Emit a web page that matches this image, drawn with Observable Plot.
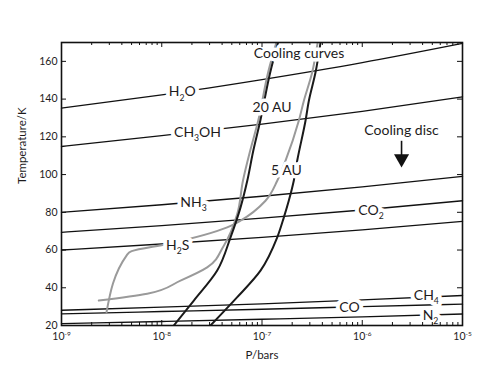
<!DOCTYPE html>
<html><head><meta charset="utf-8">
<script src="https://cdn.jsdelivr.net/npm/d3@7"></script>
<script src="https://cdn.jsdelivr.net/npm/@observablehq/plot@0.6"></script>
<style>body{margin:0;background:#fff}</style>
</head><body><div id="chart"></div>
<script>
// ---- data ----
const decades = [-9, -8, -7, -6, -5];           // log10 P (bars)
const speciesNames = ["H₂O", "CH₃OH", "NH₃", "CO₂", "H₂S", "CH₄", "CO", "N₂"];
const H2O   = [135.2, 142.2, 150.3, 159.3, 169.5];
const CH3OH = [114.9, 120.6, 126.7, 133.5, 141.2];
const NH3   = [80.0, 84.0, 88.5, 93.5, 99.0];
const CO2   = [69.4, 72.9, 76.9, 81.2, 86.1];
const H2S   = [60.0, 63.2, 66.7, 70.7, 75.2];
const CH4   = [28.1, 29.7, 31.5, 33.6, 35.9];
const CO    = [26.2, 27.4, 28.6, 30.0, 31.3];
const N2    = [21.0, 22.1, 23.3, 24.6, 26.1];
const speciesT = [H2O, CH3OH, NH3, CO2, H2S, CH4, CO, N2];

// label positions (log10 P, T)
const labelLogP = [-7.796, -7.643, -7.683, -5.913, -7.84, -5.361, -6.127, -5.319];
const labelT    = [143.8, 122.3, 85.2, 81.2, 62.3, 35.9, 29.4, 25.3];

// cooling curves
const curveNames = ["20 AU black", "20 AU grey", "5 AU black", "5 AU grey"];
const au20BlackLogP = [-7.880, -7.680, -7.447, -7.314, -7.214, -7.147, -7.087, -7.017, -6.917, -6.838];
const au20BlackT    = [20.0, 33.2, 49.1, 66.7, 82.6, 96.7, 112.6, 128.5, 154.4, 170.3];
const au20GreyLogP  = [-8.628, -8.145, -7.813, -7.547, -7.381, -7.247, -7.190, -7.118, -7.038, -6.938, -6.855];
const au20GreyT     = [33.2, 36.8, 43.8, 50.8, 62.3, 79.1, 96.7, 112.6, 128.5, 154.4, 170.3];
const au5BlackLogP  = [-7.514, -7.247, -7.015, -6.848, -6.782, -6.733, -6.683, -6.649, -6.566, -6.533, -6.466, -6.416];
const au5BlackT     = [20.0, 35.0, 49.1, 66.7, 77.3, 86.1, 96.7, 107.3, 128.5, 139.0, 154.2, 170.1];
const au5GreyLogP   = [-8.551, -8.345, -8.300, -7.946, -7.347, -7.214, -6.965, -6.848, -6.766, -6.633, -6.583, -6.499, -6.446];
const au5GreyT      = [27.0, 57.6, 59.4, 63.2, 72.0, 75.6, 86.1, 96.7, 107.3, 128.5, 139.0, 154.2, 169.5];

// annotations
const annotText = ["Cooling curves", "20 AU", "5 AU", "Cooling disc"];
const annotLogP = [-6.631, -6.900, -6.756, -5.608];
const annotT    = [163.9, 135.3, 102.0, 123.5];
const arrowLogP = -5.608;
const arrowT    = [117.9, 110.0, 108.4]; // shaft top, shaft bottom, head centre

// ticks
const xMajor = [1e-9, 1e-8, 1e-7, 1e-6, 1e-5];
const xMinorMult = [2, 3, 4, 5, 6, 7, 8, 9];
const yTicks = [20, 40, 60, 80, 100, 120, 140, 160];

// ---- build tables ----
const sublim = [];
speciesNames.forEach((n, i) => decades.forEach((e, j) => sublim.push({name: n, P: 10 ** e, T: speciesT[i][j]})));
const labels = speciesNames.map((n, i) => ({name: n, P: 10 ** labelLogP[i], T: labelT[i]}));
const curveArrays = [[au20BlackLogP, au20BlackT], [au20GreyLogP, au20GreyT], [au5BlackLogP, au5BlackT], [au5GreyLogP, au5GreyT]];
const cooling = [];
curveArrays.forEach(([lp, t], i) => lp.forEach((e, j) => cooling.push({curve: curveNames[i], P: 10 ** e, T: t[j]})));
const blackCurves = cooling.filter(d => d.curve.includes("black"));
const greyCurves = cooling.filter(d => d.curve.includes("grey"));
const annots = annotText.map((t, i) => ({text: t, P: 10 ** annotLogP[i], T: annotT[i]}));
const xMinor = decades.slice(0, -1).flatMap(e => xMinorMult.map(m => m * 10 ** e));

const W = 491, H = 379, mL = 61, mR = 29, mT = 42, mB = 54;
const pw = W - mL - mR, ph = H - mT - mB;
const ink = "#1d1b1c";
const supMap = {"⁻": "-", "⁰": "0", "¹": "1", "²": "2", "³": "3", "⁴": "4", "⁵": "5", "⁶": "6", "⁷": "7", "⁸": "8", "⁹": "9"};
const toSup = s => s.split("").map(c => Object.keys(supMap).find(k => supMap[k] === c)).join("");
const fmt = d => "10" + toSup(String(Math.round(Math.log10(d))));

const halo = {fill: "white", stroke: "white", strokeWidth: 8, fontSize: 14};
const chart = Plot.plot({
  width: W, height: H,
  marginLeft: mL, marginRight: mR, marginTop: mT, marginBottom: mB,
  style: {fontFamily: "Lato, 'Open Sans', sans-serif", fontSize: "10.5px", color: ink, background: "#fff"},
  x: {type: "log", domain: [1e-9, 1e-5]},
  y: {domain: [20, 170]},
  marks: [
    Plot.line(sublim, {x: "P", y: "T", z: "name", stroke: "#111", strokeWidth: 1.35, curve: "natural"}),
    Plot.line(greyCurves, {x: "P", y: "T", z: "curve", stroke: "#9a9a9a", strokeWidth: 2, curve: "monotone-y", clip: true}),
    Plot.line(blackCurves, {x: "P", y: "T", z: "curve", stroke: "#1a1a1a", strokeWidth: 2, curve: "monotone-y", clip: true}),
    Plot.text(labels, {x: "P", y: "T", text: "name", ...halo}),
    Plot.text(annots, {x: "P", y: "T", text: "text", ...halo, strokeWidth: 7}),
    Plot.text(labels, {x: "P", y: "T", text: "name", fill: ink, fontSize: 14}),
    Plot.text(annots, {x: "P", y: "T", text: "text", fill: ink, fontSize: 14}),
    Plot.link([arrowLogP], {x1: d => 10 ** d, x2: d => 10 ** d, y1: () => arrowT[0], y2: () => arrowT[1], stroke: "#111", strokeWidth: 1.6}),
    Plot.dot([arrowLogP], {x: d => 10 ** d, y: () => arrowT[2], symbol: "triangle", r: 5.6, fill: "#111", stroke: "none", rotate: 180}),
    // inward ticks
    Plot.tickY(yTicks, {y: d => d, insetRight: pw - 5, stroke: "#111", strokeWidth: 1}),
    Plot.tickY(yTicks, {y: d => d, insetLeft: pw - 5, stroke: "#111", strokeWidth: 1}),
    Plot.tickX(xMajor, {x: d => d, insetTop: ph - 5, stroke: "#111", strokeWidth: 1}),
    Plot.tickX(xMinor, {x: d => d, insetTop: ph - 3, stroke: "#111", strokeWidth: 1}),
    Plot.tickX(xMajor, {x: d => d, insetBottom: ph - 5, stroke: "#111", strokeWidth: 1}),
    Plot.tickX(xMinor, {x: d => d, insetBottom: ph - 3, stroke: "#111", strokeWidth: 1}),
    Plot.frame({stroke: "#111", strokeWidth: 1.6}),
    Plot.axisX({ticks: xMajor, tickSize: 0, tickPadding: 7, tickFormat: fmt, label: null, fontSize: 10.5}),
    Plot.axisY({ticks: yTicks, tickSize: 0, tickPadding: 4, label: null, fontSize: 10.5}),
    Plot.text(["P/bars"], {frameAnchor: "bottom", dy: 33, fontSize: 11.5, fill: ink}),
    Plot.text(["Temperature/K"], {frameAnchor: "left", dx: -39, rotate: -90, fontSize: 11.5, fill: ink})
  ]
});
document.getElementById("chart").appendChild(chart);

// render sub/superscript characters as shifted tspans
const subMap = {"₀": "0", "₁": "1", "₂": "2", "₃": "3", "₄": "4", "₅": "5", "₆": "6", "₇": "7", "₈": "8", "₉": "9"};
d3.select(chart).selectAll("text").each(function () {
  const t = this.textContent;
  if (!/[₀-₉⁰-⁹⁻¹²³]/.test(t)) return;
  const el = d3.select(this);
  const fs = parseFloat(getComputedStyle(this).fontSize) || 12;
  el.text(null);
  const isSub = c => c in subMap;
  const isSup = c => c in supMap;
  const runs = [];
  for (const c of t) {
    const kind = isSub(c) ? "sub" : isSup(c) ? "sup" : "n";
    const ch = isSub(c) ? subMap[c] : isSup(c) ? supMap[c] : c;
    if (runs.length && runs[runs.length - 1].kind === kind) runs[runs.length - 1].s += ch;
    else runs.push({kind, s: ch});
  }
  let shift = 0;
  for (const r of runs) {
    const target = r.kind === "sub" ? fs * 0.3 : r.kind === "sup" ? -fs * 0.35 : 0;
    const ts = el.append("tspan").attr("dy", target - shift).text(r.s);
    if (r.kind !== "n") ts.attr("font-size", fs * 0.62);
    shift = target;
  }
});
</script>
</body></html>
